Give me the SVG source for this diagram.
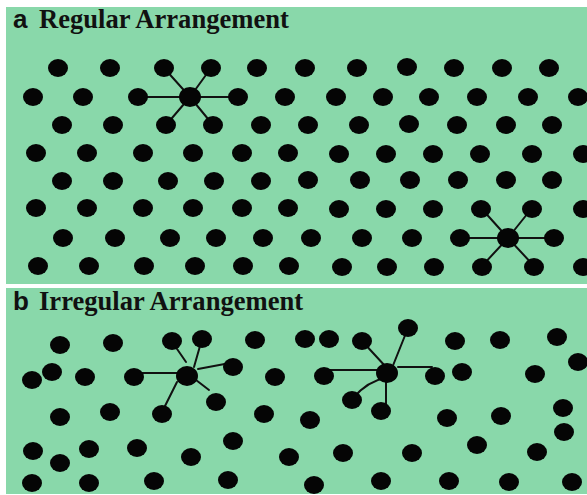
<svg xmlns="http://www.w3.org/2000/svg" xmlns:xlink="http://www.w3.org/1999/xlink" width="587" height="495" viewBox="0 0 587 495">
  <style>
    .panel { fill: #89d8aa; }
    .lbl { font-family: "Liberation Sans", Arial, sans-serif; font-weight: bold; font-size: 26px; fill: #111; }
    .ttl { font-family: "Liberation Serif", "Times New Roman", serif; font-weight: bold; font-size: 26.6px; fill: #111; }
    .spoke { stroke: #111; stroke-width: 2; fill: none; stroke-linecap: round; }
    .hub { fill: #050505; }
  </style>
  <defs>
    <ellipse id="dot" cx="0" cy="0" rx="10" ry="9" fill="#050505"/>
  </defs>

  <rect width="587" height="495" fill="#ffffff"/>

  <!-- panel a: regular lattice -->
  <g id="panel-a">
    <rect class="panel" x="6" y="7" width="581" height="277"/>
    <text class="lbl" x="13" y="28">a</text>
    <text class="ttl" x="39" y="28">Regular Arrangement</text>

    <g id="a-connectors">
      <path class="spoke" d="M190,97 L138,97 M190,97 L238,97 M190,97 L164,68 M190,97 L211,68 M190,97 L166,125 M190,97 L213,125"/>
      <path class="spoke" d="M508,238 L460,238 M508,238 L554,238 M508,238 L481,208 M508,238 L532,208 M508,238 L482,266 M508,238 L534,266"/>
    </g>

    <g id="a-dots">
      <g id="a-row1">
        <use href="#dot" x="58" y="68"/><use href="#dot" x="110" y="68"/><use href="#dot" x="164" y="68"/>
        <use href="#dot" x="211" y="68"/><use href="#dot" x="257" y="68"/><use href="#dot" x="305" y="68"/>
        <use href="#dot" x="357" y="68"/><use href="#dot" x="407" y="67"/><use href="#dot" x="454" y="68"/>
        <use href="#dot" x="502" y="68"/><use href="#dot" x="549" y="68"/>
      </g>
      <g id="a-row2">
        <use href="#dot" x="33" y="97"/><use href="#dot" x="83" y="97"/><use href="#dot" x="138" y="97"/>
        <use href="#dot" x="238" y="97"/><use href="#dot" x="285" y="97"/><use href="#dot" x="336" y="97"/>
        <use href="#dot" x="383" y="97"/><use href="#dot" x="429" y="97"/><use href="#dot" x="477" y="97"/>
        <use href="#dot" x="528" y="97"/><use href="#dot" x="578" y="97"/>
      </g>
      <g id="a-row3">
        <use href="#dot" x="62" y="125"/><use href="#dot" x="113" y="125"/><use href="#dot" x="166" y="125"/>
        <use href="#dot" x="213" y="125"/><use href="#dot" x="261" y="125"/><use href="#dot" x="308" y="125"/>
        <use href="#dot" x="359" y="125"/><use href="#dot" x="409" y="124"/><use href="#dot" x="457" y="125"/>
        <use href="#dot" x="506" y="125"/><use href="#dot" x="552" y="125"/>
      </g>
      <g id="a-row4">
        <use href="#dot" x="36" y="153"/><use href="#dot" x="87" y="153"/><use href="#dot" x="143" y="153"/>
        <use href="#dot" x="193" y="153"/><use href="#dot" x="242" y="153"/><use href="#dot" x="288" y="153"/>
        <use href="#dot" x="339" y="154"/><use href="#dot" x="386" y="154"/><use href="#dot" x="433" y="154"/>
        <use href="#dot" x="480" y="154"/><use href="#dot" x="532" y="154"/><use href="#dot" x="583" y="154"/>
      </g>
      <g id="a-row5">
        <use href="#dot" x="62" y="181"/><use href="#dot" x="113" y="181"/><use href="#dot" x="168" y="181"/>
        <use href="#dot" x="214" y="181"/><use href="#dot" x="261" y="181"/><use href="#dot" x="308" y="180"/>
        <use href="#dot" x="360" y="180"/><use href="#dot" x="410" y="180"/><use href="#dot" x="458" y="180"/>
        <use href="#dot" x="506" y="180"/><use href="#dot" x="552" y="180"/>
      </g>
      <g id="a-row6">
        <use href="#dot" x="36" y="208"/><use href="#dot" x="87" y="208"/><use href="#dot" x="143" y="208"/>
        <use href="#dot" x="193" y="208"/><use href="#dot" x="242" y="208"/><use href="#dot" x="288" y="208"/>
        <use href="#dot" x="339" y="209"/><use href="#dot" x="386" y="209"/><use href="#dot" x="433" y="209"/>
        <use href="#dot" x="481" y="209"/><use href="#dot" x="532" y="209"/><use href="#dot" x="583" y="209"/>
      </g>
      <g id="a-row7">
        <use href="#dot" x="63" y="238"/><use href="#dot" x="115" y="238"/><use href="#dot" x="170" y="238"/>
        <use href="#dot" x="216" y="238"/><use href="#dot" x="263" y="238"/><use href="#dot" x="311" y="238"/>
        <use href="#dot" x="362" y="238"/><use href="#dot" x="412" y="238"/><use href="#dot" x="460" y="238"/>
        <use href="#dot" x="554" y="238"/>
      </g>
      <g id="a-row8">
        <use href="#dot" x="38" y="266"/><use href="#dot" x="89" y="266"/><use href="#dot" x="144" y="266"/>
        <use href="#dot" x="195" y="266"/><use href="#dot" x="243" y="266"/><use href="#dot" x="289" y="266"/>
        <use href="#dot" x="342" y="267"/><use href="#dot" x="387" y="267"/><use href="#dot" x="434" y="267"/>
        <use href="#dot" x="482" y="267"/><use href="#dot" x="534" y="267"/><use href="#dot" x="583" y="267"/>
      </g>
    </g>

    <g id="a-hub1"><ellipse class="hub" cx="190" cy="97" rx="11" ry="10"/></g>
    <g id="a-hub2"><ellipse class="hub" cx="508" cy="238" rx="11" ry="10"/></g>
  </g>

  <!-- panel b: irregular placement -->
  <g id="panel-b">
    <rect class="panel" x="6" y="288" width="581" height="206"/>
    <text class="lbl" x="13" y="310">b</text>
    <text class="ttl" x="39" y="310">Irregular Arrangement</text>

    <g id="b-connectors">
      <path class="spoke" d="M142,373 L178,373 M175,346 L186,362 M202,339 L194,367 M198,369 L230,363 M196,380 L209,390 M177,382 L163,410"/>
      <path class="spoke" d="M330,370 L387,370 M362,341 L386,367 M408,328 L392,368 M398,367 L432,367 M385,378 Q368,381 353,398 M386,378 L386,407"/>
    </g>

    <g id="b-dots">
      <g id="b-upper">
        <use href="#dot" x="60" y="345"/><use href="#dot" x="113" y="343"/><use href="#dot" x="172" y="341"/>
        <use href="#dot" x="202" y="339"/><use href="#dot" x="255" y="340"/><use href="#dot" x="305" y="339"/>
        <use href="#dot" x="329" y="339"/><use href="#dot" x="362" y="341"/><use href="#dot" x="408" y="328"/>
        <use href="#dot" x="455" y="341"/><use href="#dot" x="500" y="340"/><use href="#dot" x="557" y="337"/>
      </g>
      <g id="b-middle">
        <use href="#dot" x="32" y="380"/><use href="#dot" x="52" y="372"/><use href="#dot" x="85" y="377"/>
        <use href="#dot" x="134" y="377"/><use href="#dot" x="233" y="367"/><use href="#dot" x="275" y="377"/>
        <use href="#dot" x="324" y="376"/><use href="#dot" x="435" y="376"/><use href="#dot" x="462" y="372"/>
        <use href="#dot" x="535" y="374"/><use href="#dot" x="578" y="362"/>
      </g>
      <g id="b-lowmid">
        <use href="#dot" x="60" y="417"/><use href="#dot" x="110" y="412"/><use href="#dot" x="162" y="414"/>
        <use href="#dot" x="216" y="402"/><use href="#dot" x="264" y="414"/><use href="#dot" x="310" y="420"/>
        <use href="#dot" x="352" y="400"/><use href="#dot" x="381" y="411"/><use href="#dot" x="447" y="418"/>
        <use href="#dot" x="501" y="416"/><use href="#dot" x="563" y="408"/><use href="#dot" x="564" y="432"/>
      </g>
      <g id="b-lower">
        <use href="#dot" x="33" y="451"/><use href="#dot" x="60" y="463"/><use href="#dot" x="89" y="449"/>
        <use href="#dot" x="137" y="448"/><use href="#dot" x="191" y="457"/><use href="#dot" x="233" y="441"/>
        <use href="#dot" x="289" y="457"/><use href="#dot" x="343" y="453"/><use href="#dot" x="412" y="453"/>
        <use href="#dot" x="477" y="445"/><use href="#dot" x="537" y="452"/>
      </g>
      <g id="b-bottom">
        <use href="#dot" x="32" y="483"/><use href="#dot" x="89" y="483"/><use href="#dot" x="154" y="481"/>
        <use href="#dot" x="228" y="480"/><use href="#dot" x="314" y="485"/><use href="#dot" x="381" y="481"/>
        <use href="#dot" x="449" y="481"/><use href="#dot" x="509" y="482"/><use href="#dot" x="572" y="482"/>
      </g>
    </g>

    <g id="b-hub1"><ellipse class="hub" cx="187" cy="376" rx="11" ry="10"/></g>
    <g id="b-hub2"><ellipse class="hub" cx="387" cy="373" rx="11" ry="10"/></g>
  </g>
</svg>
